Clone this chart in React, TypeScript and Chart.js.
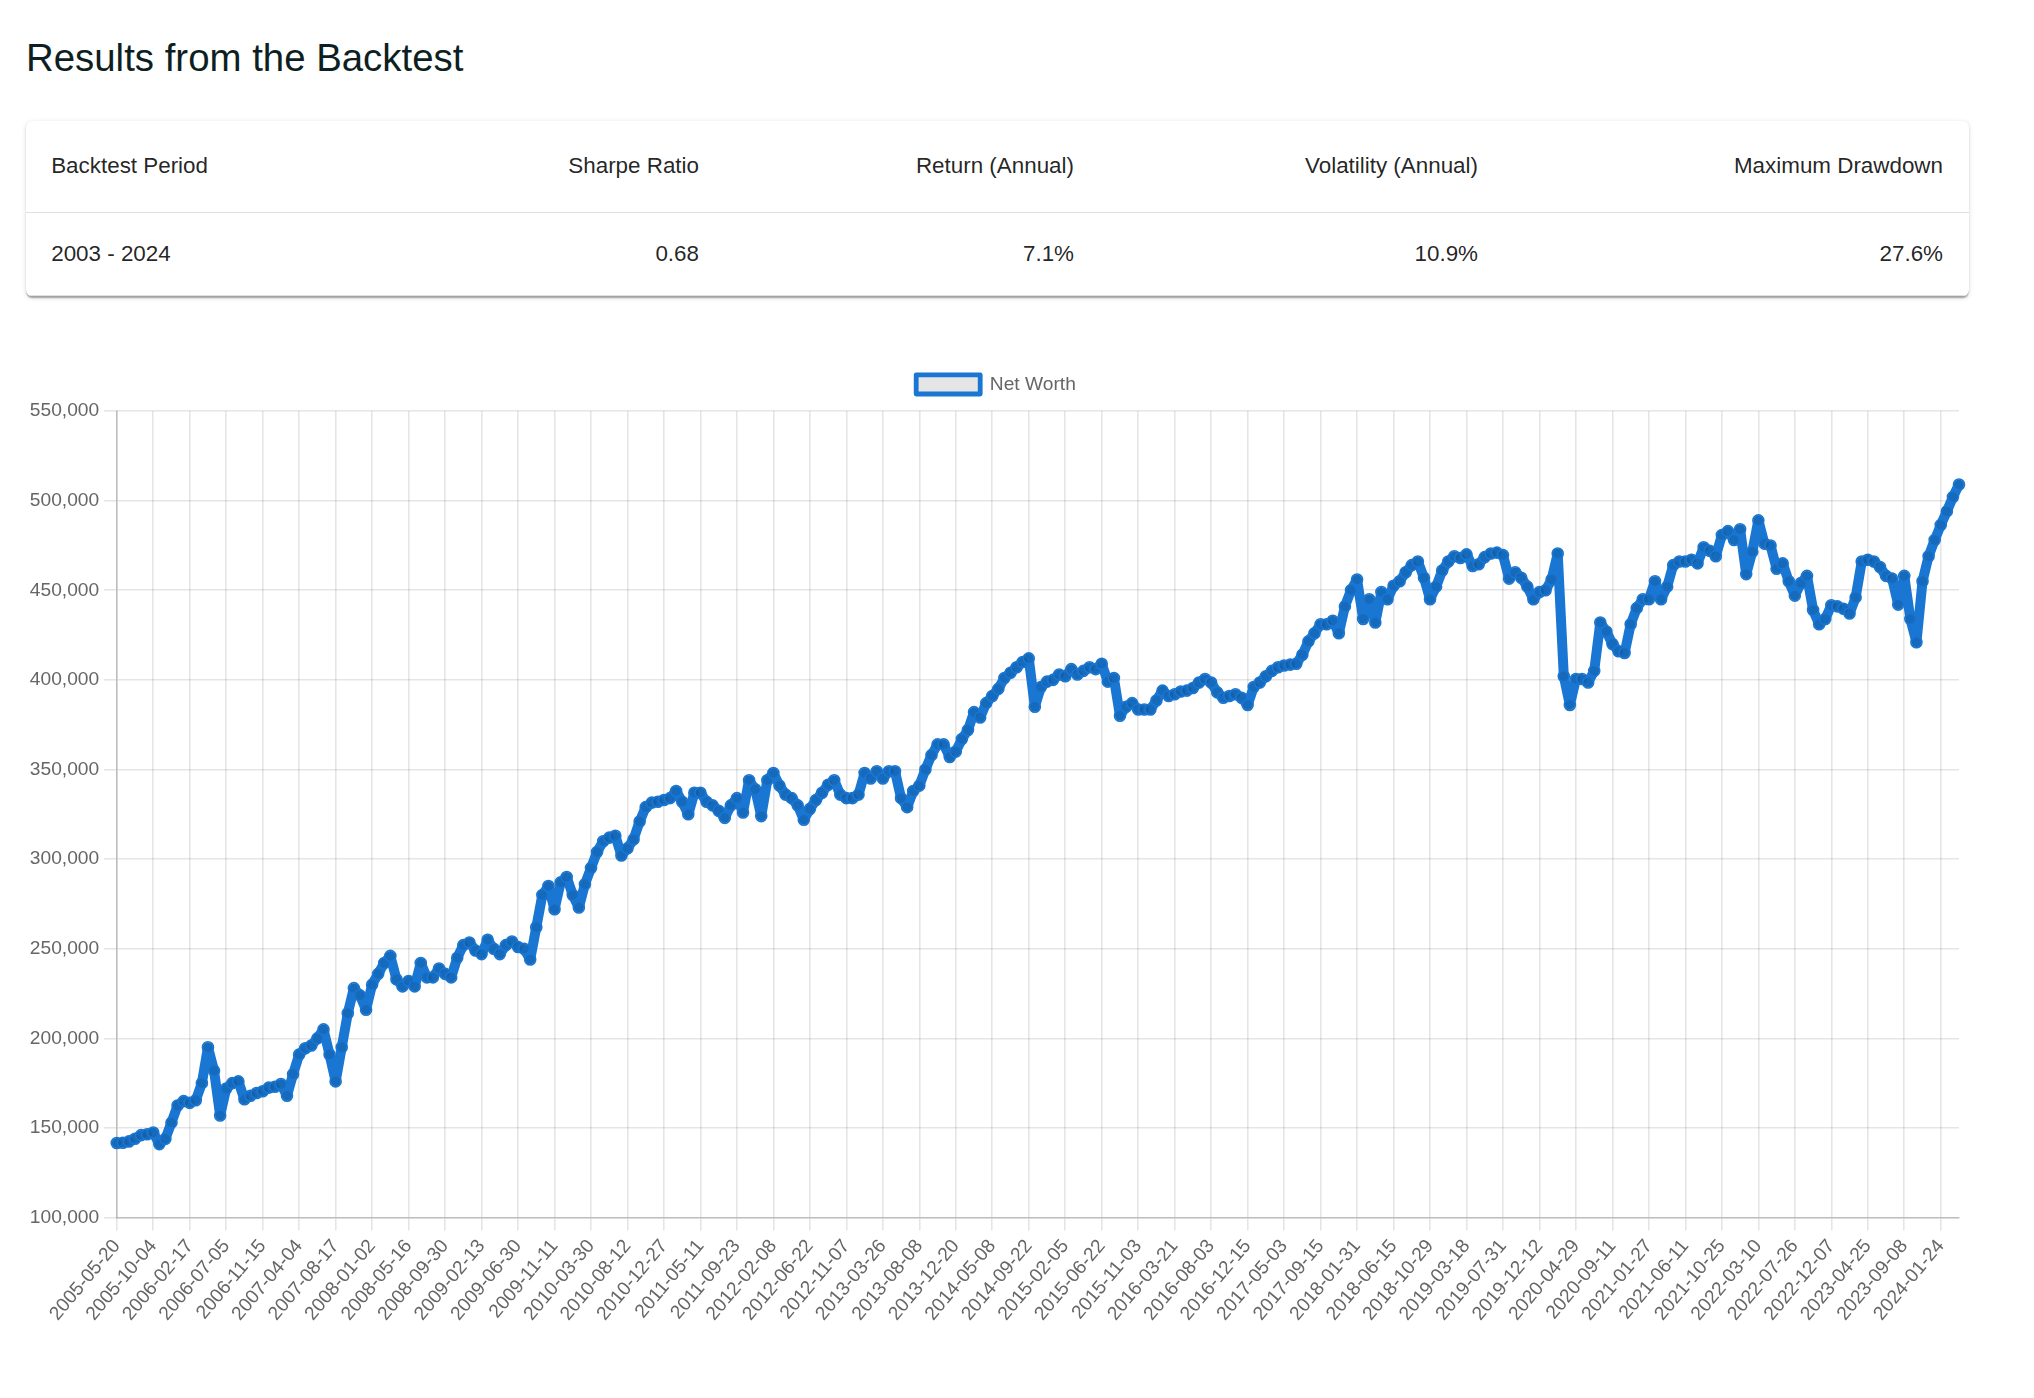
import { useEffect, useRef } from 'react'
import { Chart, registerables } from 'chart.js'

Chart.register(...registerables)

// the reference was shot at 1.6x, so chart.js defaults are scaled by this
const K = 1.6
const FONT = '"Liberation Sans", Arial, Helvetica, sans-serif'
const C_LINE = '#1976d2'
const C_TEXT = '#666'
const C_GRID = 'rgba(0,0,0,0.1)'

const SUMMARY_HEADERS = ['Backtest Period', 'Sharpe Ratio', 'Return (Annual)', 'Volatility (Annual)', 'Maximum Drawdown']
const SUMMARY_VALUES = ['2003 - 2024', '0.68', '7.1%', '10.9%', '27.6%']

const TICK_DATES = [
  '2005-05-20', '2005-10-04', '2006-02-17', '2006-07-05', '2006-11-15', '2007-04-04', '2007-08-17',
  '2008-01-02', '2008-05-16', '2008-09-30', '2009-02-13', '2009-06-30', '2009-11-11', '2010-03-30',
  '2010-08-12', '2010-12-27', '2011-05-11', '2011-09-23', '2012-02-08', '2012-06-22', '2012-11-07',
  '2013-03-26', '2013-08-08', '2013-12-20', '2014-05-08', '2014-09-22', '2015-02-05', '2015-06-22',
  '2015-11-03', '2016-03-21', '2016-08-03', '2016-12-15', '2017-05-03', '2017-09-15', '2018-01-31',
  '2018-06-15', '2018-10-29', '2019-03-18', '2019-07-31', '2019-12-12', '2020-04-29', '2020-09-11',
  '2021-01-27', '2021-06-11', '2021-10-25', '2022-03-10', '2022-07-26', '2022-12-07', '2023-04-25',
  '2023-09-08', '2024-01-24',
]

// one labelled tick every 6 samples
const PER_TICK = 6

// net worth, sampled 6 times between each pair of labelled dates
const NET_WORTH = [
  141600, 141800, 142500, 144000, 146000, 146500,
  147500, 141000, 144000, 153000, 162500, 165000,
  164000, 165500, 175000, 195000, 182000, 157000,
  172000, 175000, 176000, 166000, 168000, 169500,
  170500, 172500, 173000, 174500, 168000, 180000,
  191000, 194500, 196000, 200000, 205000, 191000,
  176000, 195000, 214000, 228000, 224000, 216000,
  230000, 236000, 242000, 246000, 233000, 229000,
  232000, 229000, 242000, 234000, 234000, 239000,
  236000, 234000, 245000, 252000, 253500, 249000,
  247000, 255000, 250000, 247000, 252000, 254000,
  251000, 250000, 244000, 262000, 280000, 285000,
  272000, 287000, 290000, 280000, 273000, 286000,
  295000, 304000, 310000, 312000, 313000, 302000,
  306000, 311000, 321000, 329000, 331500, 332000,
  333000, 334000, 338000, 332000, 325000, 337000,
  337000, 332000, 330000, 327000, 323000, 330000,
  334000, 326000, 344000, 339000, 324000, 344000,
  348000, 341000, 336000, 334000, 330000, 322000,
  328000, 333000, 337000, 341500, 344000, 336000,
  334000, 334000, 336000, 348000, 345000, 349000,
  345000, 349000, 349000, 334000, 329000, 338000,
  341000, 350000, 358000, 364000, 364000, 357000,
  360000, 367000, 372000, 382000, 379000, 387000,
  391000, 395000, 401000, 404000, 407000, 410000,
  412000, 385000, 396000, 399000, 400000, 403000,
  402000, 406000, 403000, 405000, 407000, 406000,
  409000, 399000, 401000, 380000, 385000, 387000,
  383500, 383500, 383500, 388500, 394000, 391000,
  392000, 393500, 394000, 395500, 398500, 400500,
  398500, 393000, 390000, 391000, 392000, 390000,
  386000, 396000, 398500, 402000, 405000, 407000,
  408000, 408500, 409000, 414000, 421500, 426000,
  431000, 431000, 433000, 426000, 441000, 450000,
  456000, 434000, 445000, 432000, 449000, 445000,
  452500, 455000, 460000, 464000, 466000, 457000,
  445000, 452000, 461000, 466000, 469000, 468000,
  470000, 463500, 464500, 468500, 470500, 471000,
  469600, 456500, 460000, 457000, 452000, 445000,
  449000, 450000, 456000, 470500, 402000, 386000,
  400500, 400500, 398500, 405000, 432000, 427000,
  420000, 416000, 415000, 431000, 440000, 445000,
  445000, 455000, 445000, 452000, 464000, 466000,
  466000, 467000, 465000, 474000, 472000, 469000,
  480800, 483000, 478000, 484000, 459000, 471500,
  489000, 476000, 475000, 462000, 465000, 455000,
  447000, 454000, 458000, 439000, 431000, 434000,
  441600, 441000, 439700, 437000, 446000, 466000,
  467000, 466000, 463000, 458000, 456500, 442000,
  458000, 434000, 421000, 455000, 469000, 478000,
  486400, 494000, 502000, 509000,
]

const Y_MIN = 100000
const Y_MAX = 550000
const Y_STEP = 50000

const LABELS = NET_WORTH.map((_, i) => (i % PER_TICK === 0 ? TICK_DATES[i / PER_TICK] ?? '' : ''))

const tickFont = { family: FONT, size: 12 * K }

// legend sits a little higher above the plot than chart.js puts it
const legendNudge = {
  id: 'legendNudge',
  afterLayout(chart: any) {
    if (!chart.legend) return
    chart.legend.top -= 7
    chart.legend.bottom -= 7
  },
}

function NetWorthChart() {
  const canvasRef = useRef<HTMLCanvasElement | null>(null)

  useEffect(() => {
    if (!canvasRef.current) return undefined
    const chart = new Chart(canvasRef.current, {
      type: 'line',
      data: {
        labels: LABELS,
        datasets: [
          {
            label: 'Net Worth',
            data: NET_WORTH,
            borderColor: C_LINE,
            backgroundColor: C_GRID,
            pointBackgroundColor: C_GRID,
            pointBorderColor: C_LINE,
            borderWidth: 10,
            borderJoinStyle: 'round',
            borderCapStyle: 'round',
            pointRadius: 5.5,
            pointBorderWidth: K,
            tension: 0,
            fill: false,
          },
        ],
      },
      options: {
        animation: false,
        responsive: true,
        maintainAspectRatio: false,
        layout: { padding: 0 },
        plugins: {
          legend: {
            labels: {
              boxWidth: 40 * K,
              boxHeight: 12 * K,
              padding: 9.7,
              color: C_TEXT,
              font: tickFont,
              generateLabels: (c: any) =>
                Chart.defaults.plugins.legend.labels
                  .generateLabels(c)
                  .map((item: any) => ({ ...item, lineWidth: 3 * K })),
            },
          },
          tooltip: { enabled: false },
        },
        scales: {
          x: {
            grid: {
              color: (ctx: any) => (ctx.tick && ctx.tick.label ? C_GRID : 'rgba(0,0,0,0)'),
              lineWidth: K,
              tickLength: 8 * K,
            },
            border: { color: 'rgba(0,0,0,0.18)', width: K },
            ticks: {
              autoSkip: false,
              minRotation: 50,
              maxRotation: 50,
              padding: 3 * K,
              color: C_TEXT,
              font: tickFont,
              callback: (_value: any, index: number) => LABELS[index] || null,
            },
            afterFit: (axis: any) => {
              axis.paddingRight = 8
            },
          },
          y: {
            min: Y_MIN,
            max: Y_MAX,
            grid: { color: C_GRID, lineWidth: K, tickLength: 8 * K },
            border: { color: 'rgba(0,0,0,0.18)', width: K },
            ticks: {
              stepSize: Y_STEP,
              padding: 3 * K,
              color: C_TEXT,
              font: tickFont,
              callback: (value: any) => Number(value).toLocaleString('en-US'),
            },
            afterFit: (axis: any) => {
              axis.paddingTop = 50
            },
          },
        },
      },
      plugins: [legendNudge],
    })

    return () => chart.destroy()
  }, [])

  return (
    <div style={{ position: 'absolute', left: 25, top: 360.5, width: 1942, height: 969 }}>
      <canvas ref={canvasRef} />
    </div>
  )
}

const COL_WIDTHS = [380, 319, 375, 404, 465]
const cellBorder = '1.6px solid rgb(224,224,224)'

export default function App() {
  return (
    <div
      style={{
        position: 'absolute',
        left: 0,
        top: 0,
        width: 2034,
        height: 1398,
        background: '#fff',
        fontFamily: FONT,
      }}
    >
      <div
        style={{
          position: 'absolute',
          left: 26,
          top: 32,
          fontSize: 38.4,
          lineHeight: '52px',
          color: '#0d1f22',
          whiteSpace: 'nowrap',
        }}
      >
        Results from the Backtest
      </div>

      <div
        style={{
          position: 'absolute',
          left: 25.6,
          top: 121,
          width: 1943,
          background: '#fff',
          borderRadius: 6.4,
          overflow: 'hidden',
          boxShadow:
            '0px 3.2px 1.6px -1.6px rgba(0,0,0,0.2), 0px 1.6px 1.6px 0px rgba(0,0,0,0.14), 0px 1.6px 4.8px 0px rgba(0,0,0,0.12)',
        }}
      >
        <table
          style={{
            width: '100%',
            borderCollapse: 'collapse',
            tableLayout: 'fixed',
            fontSize: 22.4,
            color: 'rgba(0,0,0,0.87)',
          }}
        >
          <colgroup>
            {COL_WIDTHS.map((w, i) => (
              <col key={i} style={{ width: w }} />
            ))}
          </colgroup>
          <thead>
            <tr style={{ height: 91 }}>
              {SUMMARY_HEADERS.map((h, i) => (
                <th
                  key={h}
                  style={{
                    padding: '0 25.6px',
                    textAlign: i === 0 ? 'left' : 'right',
                    fontWeight: 400,
                    borderBottom: cellBorder,
                    whiteSpace: 'nowrap',
                  }}
                >
                  {h}
                </th>
              ))}
            </tr>
          </thead>
          <tbody>
            <tr style={{ height: 83 }}>
              {SUMMARY_VALUES.map((v, i) => (
                <td
                  key={i}
                  style={{
                    padding: '0 25.6px',
                    textAlign: i === 0 ? 'left' : 'right',
                    borderBottom: cellBorder,
                    whiteSpace: 'nowrap',
                  }}
                >
                  {v}
                </td>
              ))}
            </tr>
          </tbody>
        </table>
      </div>

      <NetWorthChart />
    </div>
  )
}
